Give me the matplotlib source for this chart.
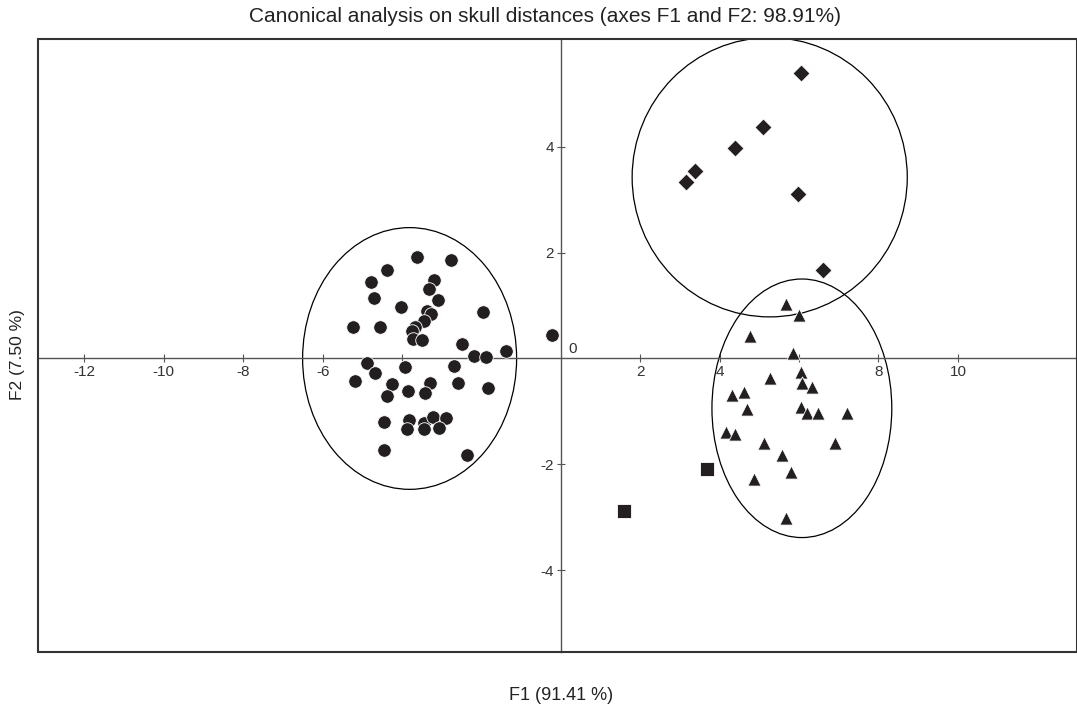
import matplotlib
matplotlib.use("Agg")
import matplotlib.pyplot as plt
from matplotlib.patches import Ellipse, Rectangle

plt.rcParams["font.family"] = ["Liberation Sans", "DejaVu Sans"]
plt.rcParams["axes.unicode_minus"] = False

# group 1 (circles)
circle_x = [-3.63, -2.78, -4.38, -4.77, -3.20, -3.32, -4.70, -3.09, -4.02, -1.97,
            -3.38, -3.28, -3.45, -3.68, -3.74, -3.72, -3.51, -5.23, -4.56, -2.48,
            -1.37, -2.18, -1.89, -4.88, -3.93, -2.70, -4.69, -5.19, -3.30, -2.59,
            -4.26, -4.38, -3.85, -3.41, -1.83, -4.45, -3.82, -3.87, -3.45, -3.45,
            -3.23, -2.90, -3.07, -4.46, -2.36, -0.22]
circle_y = [1.92, 1.85, 1.67, 1.45, 1.48, 1.32, 1.14, 1.10, 0.98, 0.88,
            0.90, 0.84, 0.71, 0.59, 0.51, 0.36, 0.35, 0.59, 0.59, 0.27,
            0.15, 0.05, 0.03, -0.08, -0.16, -0.14, -0.27, -0.42, -0.46, -0.47,
            -0.49, -0.70, -0.61, -0.65, -0.56, -1.20, -1.16, -1.34, -1.22, -1.34,
            -1.10, -1.13, -1.32, -1.73, -1.83, 0.44]

# group 2 (diamonds)
diamond_x = [6.06, 5.08, 4.38, 3.38, 3.15, 5.98, 6.61]
diamond_y = [5.38, 4.36, 3.98, 3.54, 3.34, 3.10, 1.67]

# group 3 (triangles)
triangle_x = [5.68, 6.00, 4.76, 5.85, 6.06, 5.26, 6.08, 6.33, 4.61, 4.32,
              4.70, 6.06, 6.21, 6.48, 7.21, 4.17, 4.38, 5.11, 6.90, 5.56,
              5.79, 4.86, 5.68]
triangle_y = [1.03, 0.82, 0.42, 0.10, -0.25, -0.36, -0.47, -0.54, -0.63, -0.69,
              -0.96, -0.92, -1.03, -1.03, -1.03, -1.38, -1.42, -1.59, -1.59, -1.82,
              -2.14, -2.28, -3.02]

# group 4 (squares)
square_x = [3.69, 1.59]
square_y = [-2.09, -2.88]

# confidence ellipses: centre x, centre y, width, height
ell_cx = [-3.81, 5.26, 6.07]
ell_cy = [0.00, 3.42, -0.94]
ell_w = [5.39, 6.93, 4.53]
ell_h = [4.94, 5.27, 4.88]

xticks = [-12, -10, -8, -6, -4, -2, 2, 4, 6, 8, 10]
# labels hidden under the points in the original are left blank
xticklabels = ["-12", "-10", "-8", "-6", "", "", "2", "4", "", "8", "10"]
yticks = [-4, -2, 2, 4]
yticklabels = ["-4", "-2", "2", "4"]

ink = "#231f20"

fig = plt.figure(figsize=(10.77, 7.09), dpi=100)
ax = fig.add_axes([38 / 1077, 57 / 709, 1 - 38 / 1077, (652 - 39) / 709])
ax.set_xlim(-13.17, 13.0)
ax.set_ylim(-5.54, 6.03)

for s in ["top", "right"]:
    ax.spines[s].set_visible(False)
for s in ["left", "bottom"]:
    ax.spines[s].set_position("zero")
    ax.spines[s].set_color("#555555")
    ax.spines[s].set_linewidth(1.0)

ax.set_xticks(xticks, xticklabels)
ax.set_yticks(yticks, yticklabels)
ax.tick_params(axis="both", direction="inout", length=6, width=0.8, color="#555555",
               labelsize=11, labelcolor="#333333", pad=2)
ax.text(0.2, 0.05, "0", fontsize=11, color="#333333", ha="left", va="bottom")

for cx, cy, w, h in zip(ell_cx, ell_cy, ell_w, ell_h):
    ax.add_patch(Ellipse((cx, cy), w, h, fill=False, ec="black", lw=0.9, zorder=2))

ax.scatter(circle_x, circle_y, s=95, marker="o", c=ink, edgecolors="white", linewidths=0.6, zorder=3)
ax.scatter(diamond_x, diamond_y, s=75, marker="D", c=ink, edgecolors="white", linewidths=0.6, zorder=3)
ax.scatter(triangle_x, triangle_y, s=90, marker="^", c=ink, edgecolors="white", linewidths=0.6, zorder=3)
ax.scatter(square_x, square_y, s=100, marker="s", c=ink, edgecolors="white", linewidths=0.6, zorder=3)

ax.add_patch(Rectangle((0, 0), 1, 1, transform=ax.transAxes, fill=False, ec="#333333",
                       lw=1.5, clip_on=False, zorder=4))

fig.text(545 / 1077, 1 - 17 / 709, "Canonical analysis on skull distances (axes F1 and F2: 98.91%)",
         ha="center", va="center", fontsize=15, color="#222222")
fig.text(561 / 1077, 1 - 695 / 709, "F1 (91.41 %)", ha="center", va="center", fontsize=13, color="#222222")
fig.text(18 / 1077, 1 - 355 / 709, "F2 (7.50 %)", ha="center", va="center", rotation=90,
         fontsize=12.5, color="#222222")

fig.savefig("out.png", dpi=100)
